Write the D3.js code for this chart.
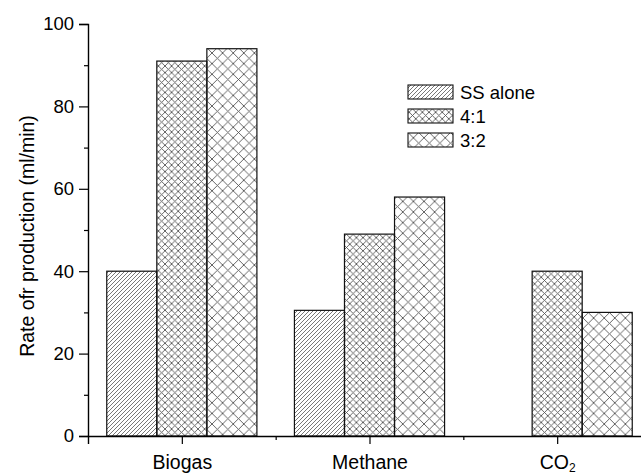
<!DOCTYPE html>
<meta charset='utf-8'>
<style>
  body { margin: 0; background: #fff; }
  text { font-family: 'Liberation Sans', Arial, sans-serif; }
</style>
<div id='chart'></div>
<script src='https://d3js.org/d3.v7.min.js'></script>
<script>

  var categories = ['Biogas', 'Methane', 'CO2'];
  var seriesNames = ['SS alone', '4:1', '3:2'];
  var ssAlone = [40, 30.5, null];
  var ratio41 = [91, 49, 40];
  var ratio32 = [94, 58, 30];
  var yTicks = [0, 20, 40, 60, 80, 100];
  var yMinor = [10, 30, 50, 70, 90];

  var seriesValues = [ssAlone, ratio41, ratio32];
  var patternIds = ['pat-ss', 'pat-41', 'pat-32'];

  var W = 641, H = 473;
  var svg = d3.select('#chart')
    .append('svg')
      .attr('width', W)
      .attr('height', H);

  // hatch patterns
  var defs = svg.append('defs');
  var ps = defs.append('pattern')
    .attr('id', 'pat-ss').attr('patternUnits', 'userSpaceOnUse')
    .attr('width', 4).attr('height', 4);
  ps.append('path').attr('d', 'M-1,1 L1,-1 M0,4 L4,0 M3,5 L5,3')
    .attr('stroke', '#555').attr('stroke-width', 0.8);

  function cross(id, p) {
    var pat = defs.append('pattern')
      .attr('id', id).attr('patternUnits', 'userSpaceOnUse')
      .attr('width', p).attr('height', p);
    pat.append('path')
      .attr('d', 'M0,0 L' + p + ',' + p + ' M0,' + p + ' L' + p + ',0')
      .attr('stroke', '#555').attr('stroke-width', 0.9);
  }
  cross('pat-41', 6.6);
  cross('pat-32', 10.6);

  var x = d3.scaleLinear().domain([0.5, 3.5]).range([88, 651]);
  var y = d3.scaleLinear().domain([0, 100]).range([436, 24]);
  var barW = 0.2667;

  // bars
  seriesValues.forEach(function(vals, si) {
    svg.append('g')
      .selectAll('rect')
      .data(vals.map(function(v, i) { return {v: v, i: i}; }).filter(function(d) { return d.v != null; }))
      .enter()
      .append('rect')
        .attr('x', function(d) { return x(d.i + 1 + (si - 1.5) * barW); })
        .attr('width', x(barW) - x(0))
        .attr('y', function(d) { return y(d.v); })
        .attr('height', function(d) { return y(0) - y(d.v); })
        .attr('fill', 'url(#' + patternIds[si] + ')')
        .attr('stroke', '#111')
        .attr('stroke-width', 1.2);
  });

  // y axis
  var yAxis = svg.append('g')
    .attr('transform', 'translate(88,0)')
    .call(d3.axisLeft(y).tickValues(yTicks).tickSize(9).tickPadding(5));
  svg.append('g')
    .attr('transform', 'translate(88,0)')
    .call(d3.axisLeft(y).tickValues(yMinor).tickSize(4).tickFormat(''))
    .select('.domain').remove();

  // x axis
  var xAxis = svg.append('g')
    .attr('transform', 'translate(0,436)')
    .call(d3.axisBottom(x).tickValues([1, 2, 3]).tickSize(8).tickPadding(11)
      .tickFormat(function(d) { return categories[d - 1]; }));
  svg.append('g')
    .attr('transform', 'translate(0,436)')
    .call(d3.axisBottom(x).tickValues([1.5, 2.5]).tickSize(4).tickFormat(''))
    .select('.domain').remove();

  svg.selectAll('.domain').attr('stroke', '#000').attr('stroke-width', 1.4);
  svg.selectAll('.tick line').attr('stroke', '#000').attr('stroke-width', 1.2);
  yAxis.selectAll('text').attr('font-size', 18.5).attr('fill', '#000')
    .style('font-family', "'Liberation Sans', Arial, sans-serif");
  xAxis.selectAll('text').attr('font-size', 19.5).attr('fill', '#000')
    .style('font-family', "'Liberation Sans', Arial, sans-serif");

  // CO2 subscript
  xAxis.selectAll('text').filter(function(d) { return categories[d - 1] === 'CO2'; })
    .text('CO')
    .append('tspan').attr('font-size', 12).attr('dy', 3).text('2');

  // y title
  svg.append('text')
    .attr('transform', 'translate(34,236) rotate(-90)')
    .attr('text-anchor', 'middle')
    .attr('font-size', 19.5)
    .text('Rate ofr production (ml/min)');

  // legend
  var legend = svg.append('g');
  seriesNames.forEach(function(name, i) {
    var ly = 85 + i * 24;
    legend.append('rect')
      .attr('x', 408).attr('y', ly)
      .attr('width', 45).attr('height', 14)
      .attr('fill', 'url(#' + patternIds[i] + ')')
      .attr('stroke', '#111').attr('stroke-width', 1.1);
    legend.append('text')
      .attr('x', 460).attr('y', ly + 14)
      .attr('font-size', 18.5)
      .text(name);
  });

</script>
